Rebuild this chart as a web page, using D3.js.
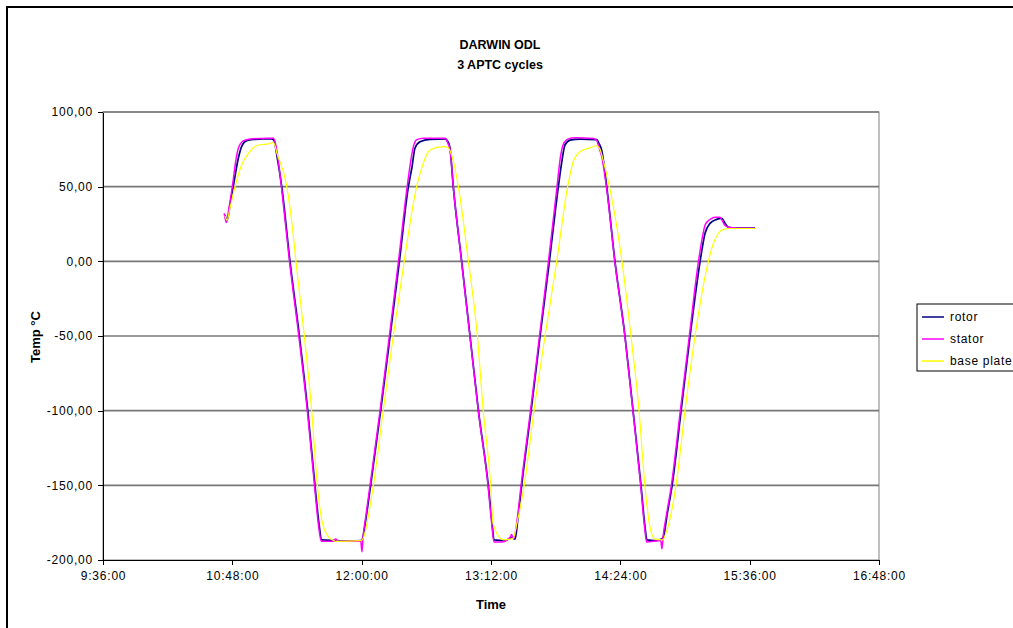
<!DOCTYPE html>
<html>
<head>
<meta charset="utf-8">
<script src="https://cdn.jsdelivr.net/npm/d3@7"></script>
<style>
  body { margin: 0; background: #fff; }
  text { font-family: "Liberation Sans", Arial, sans-serif; }
</style>
</head>
<body>
<div id="chart"></div>
<script>
// data: [time, temperature]
let rotor = [
  ["10:43:55", 31], ["10:45:10", 27.5], ["10:46:50", 39], ["10:48:30", 50],
  ["10:51:20", 69], ["10:53:10", 76.8], ["10:56:00", 80.8], ["11:00:35", 81.7],
  ["11:05:05", 82], ["11:09:55", 82], ["11:11:10", 81], ["11:12:55", 70],
  ["11:15:30", 50], ["11:20:05", 0], ["11:25:20", -50], ["11:30:00", -100],
  ["11:34:00", -150], ["11:36:10", -175], ["11:37:45", -186.5], ["11:45:05", -187],
  ["11:53:25", -187.3], ["11:59:50", -187], ["12:00:40", -185], ["12:02:25", -172],
  ["12:05:00", -150], ["12:10:35", -100], ["12:15:50", -50], ["12:21:00", 0],
  ["12:26:00", 50], ["12:28:00", 63], ["12:29:40", 75.7], ["12:32:30", 80],
  ["12:38:00", 81.7], ["12:46:25", 82], ["12:48:05", 80], ["12:49:10", 76],
  ["12:51:00", 50], ["12:55:40", 0], ["13:00:20", -50], ["13:05:00", -100],
  ["13:10:30", -150], ["13:12:35", -175], ["13:13:40", -186.5], ["13:19:50", -187],
  ["13:23:30", -185], ["13:25:25", -186], ["13:27:00", -172], ["13:29:05", -150],
  ["13:34:20", -100], ["13:39:20", -50], ["13:44:30", 0], ["13:49:30", 50],
  ["13:51:35", 68], ["13:53:10", 77.9], ["13:56:00", 81.2], ["14:01:35", 81.9],
  ["14:10:50", 81.5], ["14:12:05", 79], ["14:13:35", 74.6], ["14:16:25", 50],
  ["14:21:00", 0], ["14:26:35", -50], ["14:31:05", -100], ["14:35:30", -150],
  ["14:37:40", -177], ["14:38:50", -186.5], ["14:43:20", -187], ["14:47:10", -186],
  ["14:48:20", -183], ["14:50:00", -170], ["14:52:50", -150], ["14:57:50", -100],
  ["15:02:50", -50], ["15:08:25", 0], ["15:11:10", 18.8], ["15:13:55", 25.4],
  ["15:17:35", 28.1], ["15:20:25", 28.8], ["15:22:20", 25.4], ["15:24:05", 22.8],
  ["15:30:35", 22.2], ["15:39:00", 22.2]
];

let stator = [
  ["10:43:30", 32.2], ["10:44:40", 26], ["10:46:10", 36], ["10:48:00", 50],
  ["10:50:00", 68], ["10:51:20", 75.7], ["10:54:05", 80.6], ["10:58:00", 82],
  ["11:05:00", 82.3], ["11:10:50", 82.5], ["11:12:00", 79], ["11:13:30", 68],
  ["11:15:20", 50], ["11:19:50", 0], ["11:25:00", -50], ["11:29:45", -100],
  ["11:33:45", -150], ["11:36:00", -177], ["11:37:30", -187.5], ["11:44:00", -187.5],
  ["11:45:30", -186], ["11:47:00", -187.5], ["11:59:30", -187.5], ["12:00:10", -194.5],
  ["12:00:40", -186], ["12:02:10", -172], ["12:04:40", -150], ["12:10:15", -100],
  ["12:15:25", -50], ["12:20:30", 0], ["12:25:20", 50], ["12:27:10", 66],
  ["12:28:50", 77], ["12:30:40", 81.5], ["12:34:20", 82.5], ["12:46:25", 82.5],
  ["12:48:00", 79], ["12:49:10", 75], ["12:51:00", 50], ["12:55:35", 0],
  ["13:00:15", -50], ["13:04:55", -100], ["13:10:20", -150], ["13:12:30", -177],
  ["13:13:40", -188], ["13:18:00", -188], ["13:22:30", -185], ["13:23:30", -183],
  ["13:24:30", -186], ["13:26:40", -172], ["13:28:45", -150], ["13:34:00", -100],
  ["13:39:00", -50], ["13:44:00", 0], ["13:48:45", 50], ["13:50:40", 70],
  ["13:52:30", 79], ["13:55:00", 82], ["13:59:00", 82.8], ["14:09:00", 82.3],
  ["14:10:50", 81], ["14:12:10", 76], ["14:13:40", 70], ["14:16:15", 50],
  ["14:20:55", 0], ["14:26:30", -50], ["14:31:00", -100], ["14:35:20", -150],
  ["14:37:30", -178], ["14:38:40", -188], ["14:46:30", -187], ["14:47:10", -192.5],
  ["14:47:50", -184], ["14:49:40", -170], ["14:52:25", -150], ["14:57:25", -100],
  ["15:02:25", -50], ["15:07:30", 0], ["15:10:00", 18], ["15:11:10", 24.3],
  ["15:13:50", 28], ["15:17:00", 29.5], ["15:19:20", 29.5], ["15:22:20", 24],
  ["15:24:05", 22.8], ["15:30:35", 22.2], ["15:39:00", 22.2]
];

let basePlate = [
  ["10:43:55", 30.5], ["10:45:05", 27.5], ["10:46:45", 36], ["10:49:30", 50],
  ["10:53:10", 64.5], ["10:56:55", 72.3], ["11:02:30", 77.9], ["11:08:00", 78.6],
  ["11:10:50", 79.7], ["11:12:55", 72], ["11:18:20", 50], ["11:21:55", 17.6],
  ["11:23:25", 0], ["11:28:05", -50], ["11:32:10", -100], ["11:35:20", -150],
  ["11:37:45", -173], ["11:41:25", -184.4], ["11:46:05", -187.5], ["11:59:35", -187],
  ["12:01:20", -184], ["12:03:30", -172], ["12:06:30", -150], ["12:12:00", -100],
  ["12:17:35", -50], ["12:23:40", 0], ["12:30:35", 50], ["12:34:05", 65],
  ["12:38:00", 74.6], ["12:45:25", 76.8], ["12:48:00", 76.3], ["12:50:50", 68],
  ["12:53:50", 50], ["12:59:25", 0], ["13:04:25", -50], ["13:07:40", -100],
  ["13:11:50", -150], ["13:13:10", -176], ["13:18:55", -186.5], ["13:24:20", -185.5],
  ["13:26:30", -175], ["13:30:30", -150], ["13:35:55", -100], ["13:42:05", -50],
  ["13:48:35", 0], ["13:54:40", 50], ["13:57:35", 66], ["14:01:35", 73.4],
  ["14:07:05", 76], ["14:10:50", 77.4], ["14:12:40", 75], ["14:15:00", 65],
  ["14:17:55", 50], ["14:24:55", 0], ["14:29:55", -50], ["14:34:25", -100],
  ["14:37:40", -150], ["14:40:30", -178], ["14:43:20", -186], ["14:47:40", -186.5],
  ["14:49:25", -182], ["14:55:00", -150], ["15:00:00", -100], ["15:05:35", -50],
  ["15:13:00", 0], ["15:15:50", 12.1], ["15:18:35", 18.8], ["15:21:20", 21.4],
  ["15:25:00", 22], ["15:39:00", 22]
];

let seriesNames = ["rotor", "stator", "base plate"];
let seriesColors = ["#000080", "#ff00ff", "#ffff00"];
let xTickLabels = ["9:36:00", "10:48:00", "12:00:00", "13:12:00", "14:24:00", "15:36:00", "16:48:00"];
let yTicks = [-200, -150, -100, -50, 0, 50, 100];

let w = 1013;
let h = 628;
let plotL = 103, plotR = 879, plotT = 112, plotB = 560;

let parseT = d3.timeParse("%H:%M:%S");
let fmtT = d3.timeFormat("%-H:%M:%S");
let comma = d3.formatLocale({decimal: ",", thousands: ".", grouping: [3], currency: ["", ""], minus: "-"}).format(".2f");

let svg = d3.select("#chart")
  .append("svg")
  .attr("width", w)
  .attr("height", h);

// outer chart frame (runs off the right and bottom)
svg.append("rect")
  .attr("x", 7).attr("y", 7)
  .attr("width", w + 10).attr("height", h + 10)
  .attr("fill", "#fff")
  .attr("stroke", "#000")
  .attr("stroke-width", 2);

let x = d3.scaleTime()
  .domain([parseT(xTickLabels[0]), parseT(xTickLabels[xTickLabels.length - 1])])
  .range([plotL, plotR]);
let y = d3.scaleLinear()
  .domain([-200, 100])
  .range([plotB, plotT]);

// plot area border
svg.append("rect")
  .attr("x", plotL).attr("y", plotT)
  .attr("width", plotR - plotL).attr("height", plotB - plotT)
  .attr("fill", "#fff")
  .attr("stroke", "#808080")
  .attr("stroke-width", 1);

// gridlines
svg.append("g")
  .selectAll("line")
  .data(yTicks.slice(1))
  .join("line")
  .attr("x1", plotL).attr("x2", plotR)
  .attr("y1", d => y(d)).attr("y2", d => y(d))
  .attr("stroke", "#777")
  .attr("stroke-width", 1.6);

// series lines
let line = d3.line()
  .x(d => x(parseT(d[0])))
  .y(d => y(d[1]))
  .curve(d3.curveMonotoneX);

let allSeries = [rotor, stator, basePlate];
let widths = [1.7, 1.5, 1.2];
allSeries.forEach((s, i) => {
  svg.append("path")
    .datum(s)
    .attr("d", line)
    .attr("fill", "none")
    .attr("stroke", seriesColors[i])
    .attr("stroke-width", widths[i])
    .attr("stroke-linejoin", "round");
});

// axes
let xAxis = svg.append("g")
  .attr("transform", `translate(0,${plotB})`)
  .call(d3.axisBottom(x)
    .tickValues(xTickLabels.map(parseT))
    .tickFormat(fmtT)
    .tickSize(5)
    .tickSizeOuter(0)
    .tickPadding(6));
let yAxis = svg.append("g")
  .attr("transform", `translate(${plotL},0)`)
  .call(d3.axisLeft(y)
    .tickValues(yTicks)
    .tickFormat(comma)
    .tickSize(5)
    .tickSizeOuter(0)
    .tickPadding(5));

[xAxis, yAxis].forEach(a => {
  a.selectAll("path,line").attr("stroke", "#000").attr("shape-rendering", "crispEdges");
  a.selectAll("text")
    .attr("fill", "#000")
    .style("font-size", "12px")
    .style("letter-spacing", "0.8px")
    .style("font-family", "'Liberation Sans', Arial, sans-serif");
});

// titles
svg.append("text")
  .text("DARWIN ODL")
  .attr("x", 500).attr("y", 49)
  .attr("text-anchor", "middle")
  .style("font-size", "12.5px")
  .style("font-weight", "bold");
svg.append("text")
  .text("3 APTC cycles")
  .attr("x", 500).attr("y", 69)
  .attr("text-anchor", "middle")
  .style("font-size", "12.5px")
  .style("font-weight", "bold");

svg.append("text")
  .text("Time")
  .attr("x", 491).attr("y", 609)
  .attr("text-anchor", "middle")
  .style("font-size", "13px")
  .style("font-weight", "bold");
svg.append("text")
  .text("Temp °C")
  .attr("transform", "translate(40,337) rotate(-90)")
  .attr("text-anchor", "middle")
  .style("font-size", "13px")
  .style("font-weight", "bold");

// legend
let legend = svg.append("g").attr("transform", "translate(917,304)");
legend.append("rect")
  .attr("width", 110).attr("height", 67)
  .attr("fill", "#fff")
  .attr("stroke", "#000")
  .attr("stroke-width", 1);
seriesNames.forEach((n, i) => {
  let g = legend.append("g").attr("transform", `translate(0,${13 + i * 22})`);
  g.append("line")
    .attr("x1", 5).attr("x2", 27)
    .attr("stroke", seriesColors[i])
    .attr("stroke-width", 1.5);
  g.append("text")
    .text(n)
    .attr("x", 33).attr("y", 4)
    .style("font-size", "12px")
    .style("letter-spacing", "0.7px");
});
</script>
</body>
</html>
